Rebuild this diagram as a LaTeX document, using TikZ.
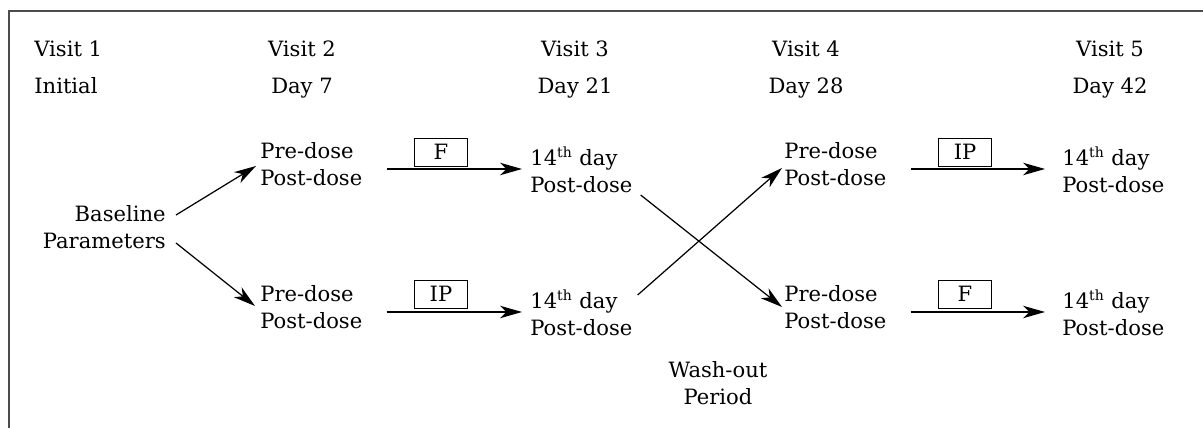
\documentclass[tikz,border=0pt]{standalone}
\usepackage{fontspec}
\setmainfont{DejaVu Serif}
\usepackage{tikz}
\usetikzlibrary{arrows.meta,positioning,calc}

\begin{document}
\begin{tikzpicture}[
    x=0.02cm, y=-0.02cm,
    font=\fontsize{12}{15.9}\selectfont,
    txt/.style={inner sep=0pt, align=left, anchor=base west},
    hdr/.style={inner sep=0pt, anchor=base},
    drug/.style={draw, thin, inner sep=0pt, minimum width=1.06cm, minimum height=0.56cm},
    arr/.style={-{Stealth[length=4.4mm, width=2.5mm, inset=1.3mm]}, line width=0.7pt},
    frame/.style={draw=black!70, line width=1pt},
]
    \useasboundingbox (0,0) rectangle (1203,428);
    \draw[frame] (9,428) -- (9,11) -- (1203,11);

    % Header rows
    \node[hdr, anchor=base west] (visit1) at (34,57) {Visit 1};
    \node[hdr, anchor=base west] (day0) at (34,94) {Initial};
    \node[hdr] (visit2) at (302,57) {Visit 2};
    \node[hdr] (day7) at (302,94) {Day 7};
    \node[hdr] (visit3) at (575,57) {Visit 3};
    \node[hdr] (day21) at (575,94) {Day 21};
    \node[hdr] (visit4) at (806,57) {Visit 4};
    \node[hdr] (day28) at (806,94) {Day 28};
    \node[hdr] (visit5) at (1110,57) {Visit 5};
    \node[hdr] (day42) at (1110,94) {Day 42};

    % Baseline (base anchor = last line)
    \node[txt, align=right, anchor=base east] (base) at (166,249) {Baseline\\Parameters};

    % Visit 2
    \node[txt] (v2a) at (260,186) {Pre-dose\\Post-dose};
    \node[txt] (v2b) at (260,329) {Pre-dose\\Post-dose};

    % Visit 3
    \node[txt] (v3a) at (530,193) {14\textsuperscript{th} day\\Post-dose};
    \node[txt] (v3b) at (530,336) {14\textsuperscript{th} day\\Post-dose};

    % Visit 4
    \node[txt] (v4a) at (784,186) {Pre-dose\\Post-dose};
    \node[txt] (v4b) at (784,329) {Pre-dose\\Post-dose};

    % Visit 5
    \node[txt] (v5a) at (1062,193) {14\textsuperscript{th} day\\Post-dose};
    \node[txt] (v5b) at (1062,336) {14\textsuperscript{th} day\\Post-dose};

    % Treatments
    \node[drug] (f1) at (441,152) {F};
    \node[drug] (ip1) at (441,294) {IP};
    \node[drug] (ip2) at (965,152) {IP};
    \node[drug] (f2) at (965,294) {F};

    \node[txt, align=center, anchor=base] (wash) at (718,405) {Wash-out\\Period};

    \draw[arr] ($(base.base east)+(10,-34)$) -- ($(v2a.base west)+(-4,-20)$);
    \draw[arr] ($(base.base east)+(10,-6)$) -- ($(v2b.base west)+(-5,-23)$);
    \draw[arr] ($(v2a.base east)+(24,-17)$) -- ($(v3a.base west)+(-8,-24)$);
    \draw[arr] ($(v2b.base east)+(24,-17)$) -- ($(v3b.base west)+(-8,-24)$);
    \draw[arr] ($(v3a.base east)+(8,2)$) -- ($(v4b.base west)+(-2,-22)$);
    \draw[arr] ($(v3b.base east)+(5,-41)$) -- ($(v4a.base west)+(-2,-18)$);
    \draw[arr] ($(v4a.base east)+(24,-17)$) -- ($(v5a.base west)+(-17,-24)$);
    \draw[arr] ($(v4b.base east)+(24,-17)$) -- ($(v5b.base west)+(-17,-24)$);
\end{tikzpicture}
\end{document}
